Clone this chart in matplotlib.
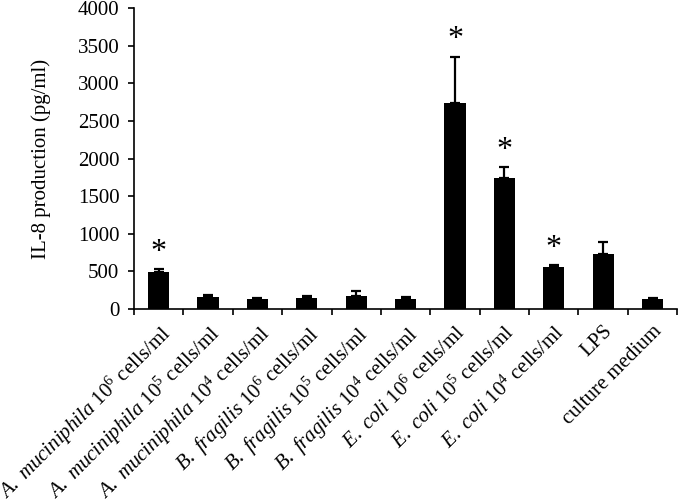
import matplotlib
matplotlib.use("Agg")
import matplotlib.pyplot as plt
import numpy as np

plt.rcParams['font.family'] = ['Liberation Serif', 'DejaVu Serif']
plt.rcParams['mathtext.fontset'] = 'custom'
plt.rcParams['mathtext.rm'] = 'Liberation Serif'
plt.rcParams['mathtext.it'] = 'Liberation Serif:italic'
plt.rcParams['mathtext.bf'] = 'Liberation Serif:bold'

# data
labels = [
    r'$\mathit{A.\ muciniphila}\ 10^{6}$ cells/ml',
    r'$\mathit{A.\ muciniphila}\ 10^{5}$ cells/ml',
    r'$\mathit{A.\ muciniphila}\ 10^{4}$ cells/ml',
    r'$\mathit{B.\ fragilis}\ 10^{6}$ cells/ml',
    r'$\mathit{B.\ fragilis}\ 10^{5}$ cells/ml',
    r'$\mathit{B.\ fragilis}\ 10^{4}$ cells/ml',
    r'$\mathit{E.\ coli}\ 10^{6}$ cells/ml',
    r'$\mathit{E.\ coli}\ 10^{5}$ cells/ml',
    r'$\mathit{E.\ coli}\ 10^{4}$ cells/ml',
    'LPS',
    'culture medium',
]
means = [490, 160, 132, 142, 172, 128, 2740, 1745, 556, 728, 132]
errs = [42, 26, 20, 30, 66, 35, 615, 140, 28, 160, 18]
significant = [True, False, False, False, False, False, True, True, True, False, False]

fig = plt.figure(figsize=(6.8, 5.04), dpi=100)
ax = fig.add_axes([0.197, 0.387, 0.799, 0.597])

x = np.arange(len(means))
ax.bar(x, means, width=0.43, color='black')
ax.errorbar(x, means, yerr=[np.zeros(len(errs)), errs], fmt='none',
            ecolor='black', elinewidth=1.6, capsize=3.5, capthick=1.6)

for xi, m, e, s in zip(x, means, errs, significant):
    if s:
        ax.text(xi, m + e + 30, '*', ha='center', va='bottom', fontsize=23)

ax.set_xlim(-0.5, len(means) - 0.5)
ax.set_ylim(0, 4000)
ax.set_yticks(np.arange(0, 4001, 500))
ax.tick_params(axis='y', labelsize=15, direction='out', length=4.5, width=1.2, pad=6)
ax.set_xticks(x)
ax.set_xticklabels(labels, rotation=45, ha='right', rotation_mode='anchor', fontsize=15)
ax.tick_params(axis='x', which='major', length=0, pad=9)
ax.set_xticks(np.arange(-0.5, len(means), 1), minor=True)
ax.tick_params(axis='x', which='minor', direction='out', length=4.5, width=1.2)

for side in ['left', 'bottom']:
    ax.spines[side].set_linewidth(1.2)
ax.spines['top'].set_visible(False)
ax.spines['right'].set_visible(False)
ax.set_ylabel('IL-8 production (pg/ml)', fontsize=15, labelpad=19)

fig.savefig('out.png', dpi=100)
